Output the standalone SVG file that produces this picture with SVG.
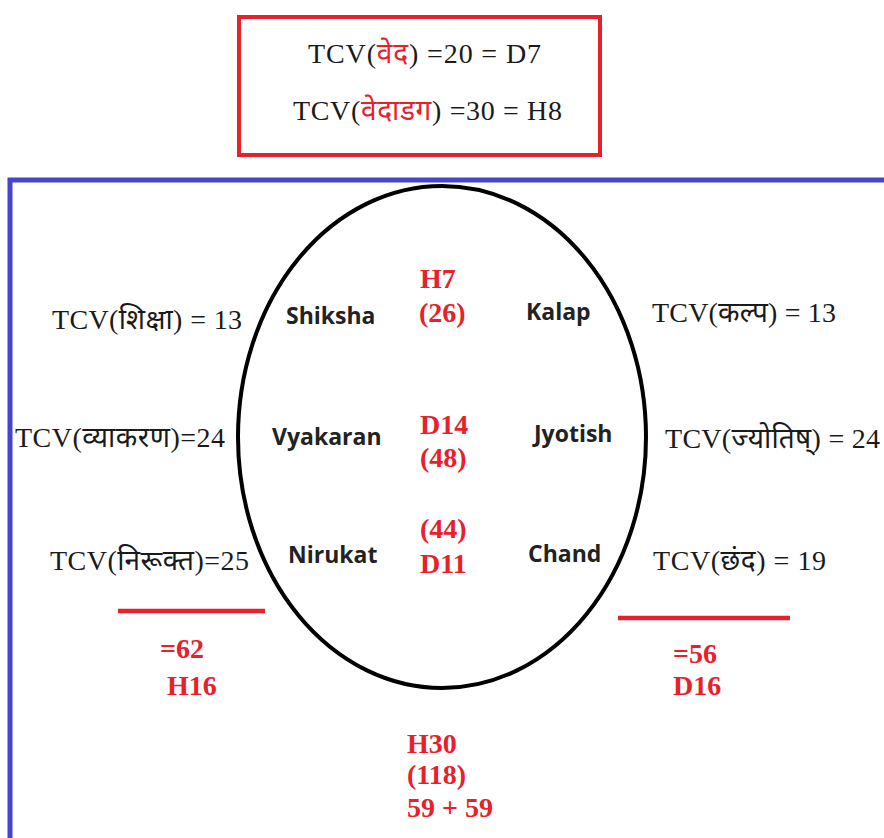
<svg xmlns="http://www.w3.org/2000/svg" width="884" height="838" viewBox="0 0 884 838">
<style>
.tcv{font-family:"Liberation Serif","Noto Sans",serif;font-size:28px;fill:#1a1a1a}
.dev{fill:#e8202a}
.lbl{font-family:"Open Sans","Noto Sans",sans-serif;font-weight:bold;font-size:23px;fill:#222}
.red{font-family:"Liberation Serif",serif;font-weight:bold;font-size:28px;fill:#e8202a}
.rl{stroke:#e8202a;stroke-width:4.5}
</style>
<rect width="884" height="838" fill="#ffffff"/>
<g id="summary-box">
<rect x="239" y="17" width="361" height="138" fill="none" stroke="#e8202a" stroke-width="4"/>
<text class="tcv" x="308" y="63" textLength="233" lengthAdjust="spacing">TCV(<tspan class="dev">वेद</tspan>) =20 = D7</text>
<text class="tcv" x="293" y="120" textLength="269" lengthAdjust="spacing">TCV(<tspan class="dev">वेदाडग</tspan>) =30 = H8</text>
</g>
<g id="frame">
<path d="M10 838 V180 H884" fill="none" stroke="#4444cc" stroke-width="5"/>
</g>
<g id="ellipse-node">
<ellipse cx="442" cy="437" rx="204" ry="251" fill="none" stroke="#000" stroke-width="4"/>
<text class="lbl" x="286" y="324">Shiksha</text>
<text class="lbl" x="526" y="320">Kalap</text>
<text class="lbl" x="272" y="445">Vyakaran</text>
<text class="lbl" x="534" y="442">Jyotish</text>
<text class="lbl" x="288" y="563">Nirukat</text>
<text class="lbl" x="528" y="562">Chand</text>
<text class="red" x="420" y="288">H7</text>
<text class="red" x="419" y="322">(26)</text>
<text class="red" x="420" y="434">D14</text>
<text class="red" x="420" y="467">(48)</text>
<text class="red" x="420" y="538">(44)</text>
<text class="red" x="420" y="573">D11</text>
</g>
<g id="left-values">
<text class="tcv" x="52" y="329" textLength="190" lengthAdjust="spacing">TCV(शिक्षा) = 13</text>
<text class="tcv" x="15" y="447" textLength="210" lengthAdjust="spacing">TCV(व्याकरण)=24</text>
<text class="tcv" x="50" y="570" textLength="199" lengthAdjust="spacing">TCV(निरूक्त)=25</text>
<line class="rl" x1="118" y1="611" x2="265" y2="611"/>
<text class="red" x="160" y="658">=62</text>
<text class="red" x="167" y="695">H16</text>
</g>
<g id="right-values">
<text class="tcv" x="652" y="322" textLength="184" lengthAdjust="spacing">TCV(कल्प) = 13</text>
<text class="tcv" x="665" y="448" textLength="215" lengthAdjust="spacing">TCV(ज्योतिष्) = 24</text>
<text class="tcv" x="653" y="570" textLength="173" lengthAdjust="spacing">TCV(छंद) = 19</text>
<line class="rl" x1="618" y1="618" x2="790" y2="618"/>
<text class="red" x="673" y="663">=56</text>
<text class="red" x="673" y="695">D16</text>
</g>
<g id="total">
<text class="red" x="407" y="753">H30</text>
<text class="red" x="407" y="784">(118)</text>
<text class="red" x="407" y="817">59 + 59</text>
</g>
</svg>
